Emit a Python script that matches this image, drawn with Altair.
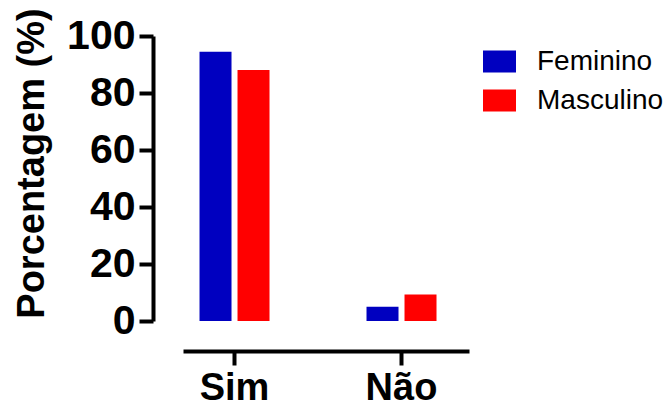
import altair as alt
import pandas as pd

# Survey answers by sex (percent of each group)
categories = ["Sim", "Não"]
groups = ["Feminino", "Masculino"]
feminino = [94.5, 5.0]
masculino = [88.1, 9.3]
colors = ["#0000C0", "#FF0000"]
y_ticks = [0, 20, 40, 60, 80, 100]

rows = []
for cat, f, m in zip(categories, feminino, masculino):
    rows.append({"Resposta": cat, "Sexo": groups[0], "Porcentagem": f})
    rows.append({"Resposta": cat, "Sexo": groups[1], "Porcentagem": m})
df = pd.DataFrame(rows)

FONT = "Liberation Sans"

chart = (
    alt.Chart(df)
    .mark_bar()
    .encode(
        x=alt.X(
            "Resposta:N",
            sort=categories,
            scale=alt.Scale(paddingInner=0.5808, paddingOuter=0.1467, align=0.337),
            axis=alt.Axis(
                title=None,
                offset=30,
                domainWidth=4,
                domainColor="black",
                tickWidth=4,
                tickSize=14,
                tickColor="black",
                labelAngle=0,
                labelFont=FONT,
                labelFontSize=38,
                labelFontWeight="bold",
                labelColor="black",
                labelBaseline="alphabetic",
                labelPadding=34,
            ),
        ),
        xOffset=alt.XOffset(
            "Sexo:N",
            sort=groups,
            scale=alt.Scale(paddingInner=0.158, paddingOuter=0),
        ),
        y=alt.Y(
            "Porcentagem:Q",
            scale=alt.Scale(domain=[0, 100], nice=False),
            axis=alt.Axis(
                title="Porcentagem (%)",
                values=y_ticks,
                offset=30,
                grid=False,
                domainWidth=4,
                domainColor="black",
                tickWidth=4,
                tickSize=14,
                tickColor="black",
                labelFont=FONT,
                labelFontSize=41,
                labelFontWeight="bold",
                labelColor="black",
                labelPadding=4,
                titleFont=FONT,
                titleFontSize=38,
                titleFontWeight="bold",
                titleColor="black",
                titleAngle=270,
                titleAlign="center",
                titleBaseline="alphabetic",
                titleX=-110,
                titleY=127,
            ),
        ),
        color=alt.Color(
            "Sexo:N",
            sort=groups,
            scale=alt.Scale(domain=groups, range=colors),
            legend=alt.Legend(
                title=None,
                orient="none",
                legendX=300,
                legendY=9,
                padding=0,
                symbolType="M-1,-0.667H1V0.667H-1Z",
                symbolSize=1089,
                symbolStrokeWidth=0,
                symbolOpacity=1,
                labelFont=FONT,
                labelFontSize=28,
                labelColor="black",
                labelOffset=21,
                rowPadding=8,
            ),
        ),
    )
    .properties(
        width=286,
        height=285,
        autosize=alt.AutoSizeParams(type="none"),
        padding={"left": 183, "top": 36, "right": 197, "bottom": 86},
    )
    .configure_view(stroke=None)
    .configure_axis(grid=False)
)

chart.save("out.html", embed_options={"renderer": "svg", "actions": False})
